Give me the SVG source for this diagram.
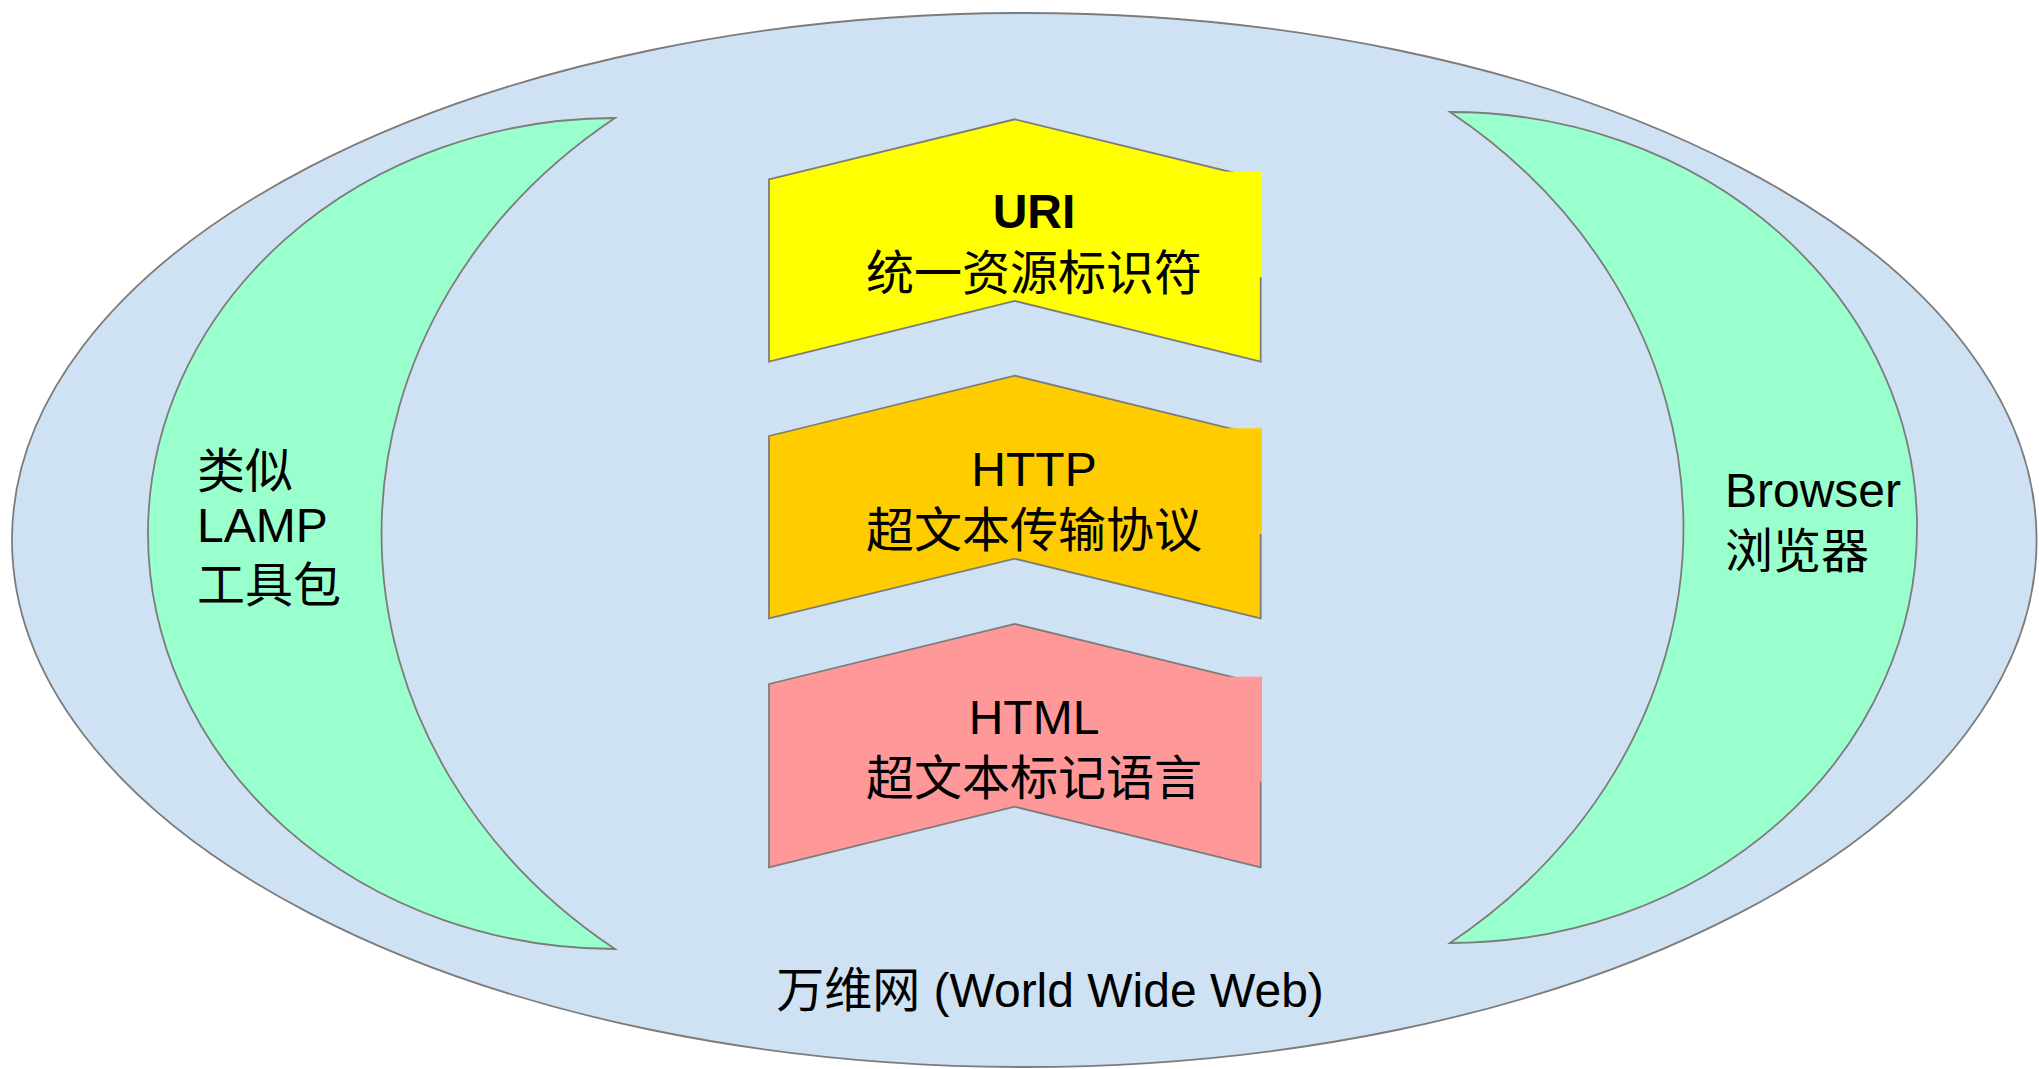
<svg xmlns="http://www.w3.org/2000/svg" width="2039" height="1069" viewBox="0 0 2039 1069">
<style>
.edge{stroke:#7c7c7c;stroke-width:1.8;stroke-linejoin:miter}
.world{fill:#cfe2f3}
.moon{fill:#99ffcc}
.uri{fill:#ffff00}
.http{fill:#ffcc00}
.html{fill:#ff9999}
.t{font-family:"Liberation Sans","Noto Sans CJK SC",sans-serif;font-size:48px;fill:#000}
.c{text-anchor:middle}
.b{font-weight:bold}
</style>
<rect x="0" y="0" width="2039" height="1069" fill="#ffffff"/>
<g id="world-wide-web">
  <ellipse class="world edge" cx="1024.3" cy="540" rx="1012.3" ry="527"/>
  <text class="t c" x="1050" y="1007">万维网 (World Wide Web)</text>
</g>
<g id="lamp">
  <path class="moon edge" d="M 615 949 A 467 415.5 0 0 1 615 118 A 583.75 519.4 0 0 0 615 949 Z"/>
  <text class="t" x="197" y="488">类似</text>
  <text class="t" x="197" y="541.7">LAMP</text>
  <text class="t" x="197" y="601.5">工具包</text>
</g>
<g id="browser">
  <path class="moon edge" d="M 1450 112 A 467 415.5 0 0 1 1450 943 A 583.75 519.4 0 0 0 1450 112 Z"/>
  <text class="t" x="1725" y="506.7">Browser</text>
  <text class="t" x="1725" y="568">浏览器</text>
</g>
<g id="uri">
  <path class="uri edge" d="M 769 179.3 L 1014.85 119.3 L 1260.7 179.3 L 1260.7 361.7 L 1014.85 301 L 769 361.7 Z"/>
  <rect class="uri" x="805" y="171.7" width="457" height="105.6"/>
  <text class="t c b" x="1034" y="228.3">URI</text>
  <text class="t c" x="1034" y="290">统一资源标识符</text>
</g>
<g id="http">
  <path class="http edge" d="M 769 436 L 1014.85 375.7 L 1260.7 436 L 1260.7 618.3 L 1014.85 558.7 L 769 618.3 Z"/>
  <rect class="http" x="805" y="428.3" width="457" height="105.7"/>
  <text class="t c" x="1034" y="486">HTTP</text>
  <text class="t c" x="1034" y="547">超文本传输协议</text>
</g>
<g id="html">
  <path class="html edge" d="M 769 684 L 1014.85 624 L 1260.7 684 L 1260.7 867.3 L 1014.85 806.7 L 769 867.3 Z"/>
  <rect class="html" x="805" y="676.7" width="457" height="105"/>
  <text class="t c" x="1034" y="734">HTML</text>
  <text class="t c" x="1034" y="795">超文本标记语言</text>
</g>
<g id="connectors"/>
</svg>
